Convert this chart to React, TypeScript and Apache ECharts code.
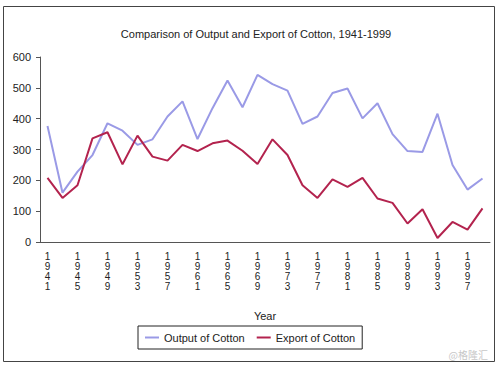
import React, { useEffect, useRef } from "react";
import * as echarts from "echarts";

const years = [
  "1941","1943","1945","1947","1949","1951","1953","1955","1957","1959",
  "1961","1963","1965","1967","1969","1971","1973","1975","1977","1979",
  "1981","1983","1985","1987","1989","1991","1993","1995","1997","1999",
];
const outputOfCotton = [
  376, 160, 228, 282, 385, 361, 315, 333, 407, 456,
  334, 434, 524, 437, 542, 512, 491, 383, 407, 483,
  498, 401, 450, 350, 295, 292, 416, 250, 170, 206,
];
const exportOfCotton = [
  208, 143, 184, 336, 356, 252, 345, 277, 264, 315,
  295, 320, 329, 296, 253, 333, 282, 184, 143, 203,
  179, 208, 141, 127, 60, 106, 13, 65, 40, 109,
];
const yTicks = { min: 0, max: 600, interval: 100 };

export default function App() {
  const ref = useRef<HTMLDivElement>(null);
  useEffect(() => {
    if (!ref.current) return;
    const chart = echarts.init(ref.current, null, { renderer: "svg" });
    const font = "Liberation Sans, Arial, sans-serif";
    chart.setOption({
      animation: false,
      backgroundColor: "#ffffff",
      textStyle: { fontFamily: font },
      title: {
        text: "Comparison of Output and Export of Cotton, 1941-1999",
        left: 251,
        textAlign: "center",
        top: 23,
        textStyle: { fontSize: 11, fontWeight: "normal", color: "#222", fontFamily: font },
      },
      grid: { left: 40, right: 10, top: 57, bottom: 124, containLabel: false },
      legend: {
        left: 138,
        top: 326,
        itemWidth: 14,
        itemHeight: 2,
        itemGap: 12,
        icon: "rect",
        borderColor: "#222",
        borderWidth: 1,
        padding: [6, 7, 6, 7],
        textStyle: { fontSize: 11, color: "#222", fontFamily: font },
        data: ["Output of Cotton", "Export of Cotton"],
      },
      xAxis: {
        type: "category",
        data: years,
        boundaryGap: true,
        name: "Year",
        nameLocation: "middle",
        nameGap: 68,
        nameTextStyle: { fontSize: 11, color: "#222", fontFamily: font },
        axisLine: { lineStyle: { color: "#555", width: 1 } },
        axisTick: { show: false },
        axisLabel: {
          interval: 1,
          margin: 9,
          fontSize: 10,
          lineHeight: 10,
          color: "#222",
          formatter: (v: string) => v.split("").join("\n"),
        },
        splitLine: { show: false },
      },
      yAxis: {
        type: "value",
        min: yTicks.min,
        max: yTicks.max,
        interval: yTicks.interval,
        axisLine: { show: true, lineStyle: { color: "#555", width: 1 } },
        axisTick: { show: true, length: 4, lineStyle: { color: "#555" } },
        axisLabel: { fontSize: 11, color: "#222", margin: 9 },
        splitLine: { show: false },
      },
      series: [
        {
          name: "Output of Cotton",
          type: "line",
          data: outputOfCotton,
          symbol: "none",
          lineStyle: { color: "#9a9ae6", width: 2 },
          itemStyle: { color: "#9a9ae6" },
        },
        {
          name: "Export of Cotton",
          type: "line",
          data: exportOfCotton,
          symbol: "none",
          lineStyle: { color: "#b3234e", width: 2 },
          itemStyle: { color: "#b3234e" },
        },
      ],
      graphic: [
        {
          type: "rect",
          shape: { x: 3.5, y: 6.5, width: 491, height: 355 },
          style: { fill: "none", stroke: "#444", lineWidth: 1 },
          silent: true,
        },
        {
          type: "text",
          right: 12,
          top: 349,
          style: { text: "@格隆汇", fill: "#c8c8c8", fontSize: 10, fontFamily: "Noto Sans CJK SC" },
          silent: true,
        },
      ],
    });
    return () => chart.dispose();
  }, []);
  return (
    <div
      ref={ref}
      style={{ position: "fixed", left: 0, top: 0, width: 500, height: 366 }}
    />
  );
}
